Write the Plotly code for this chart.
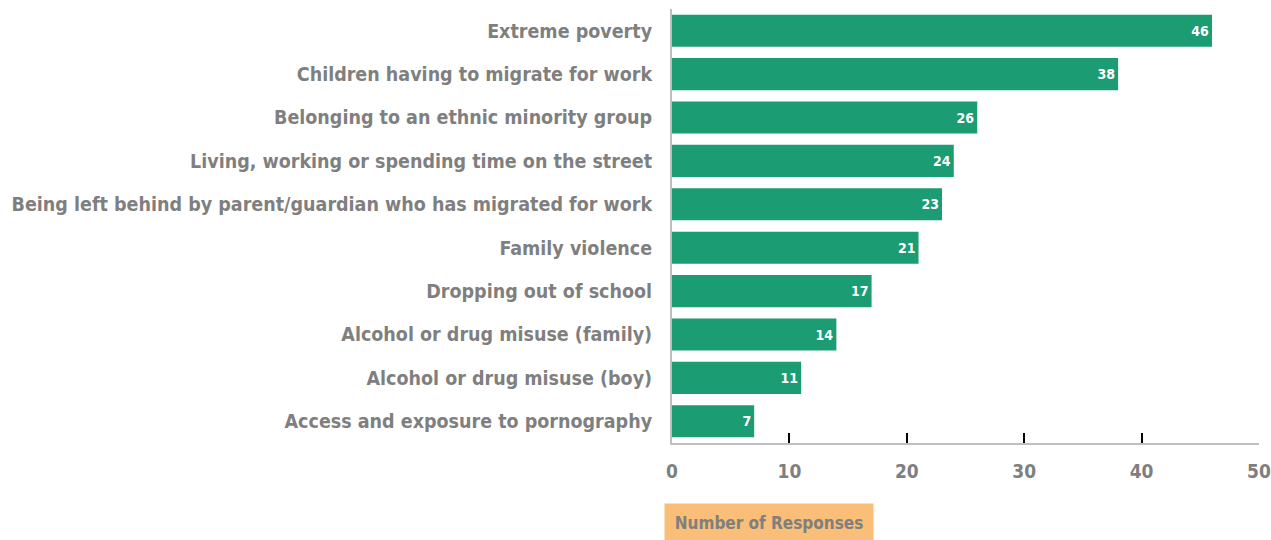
import plotly.graph_objects as go

categories = [
    "Extreme poverty",
    "Children having to migrate for work",
    "Belonging to an ethnic minority group",
    "Living, working or spending time on the street",
    "Being left behind by parent/guardian who has migrated for work",
    "Family violence",
    "Dropping out of school",
    "Alcohol or drug misuse (family)",
    "Alcohol or drug misuse (boy)",
    "Access and exposure to pornography",
]
values = [46, 38, 26, 24, 23, 21, 17, 14, 11, 7]
x_ticks = [0, 10, 20, 30, 40, 50]
axis_title = "Number of Responses"

FONT = "DejaVu Sans Condensed, Roboto Condensed, Arial Narrow, sans-serif"
GRAY = "#7f7f7f"

fig = go.Figure(go.Bar(
    y=categories,
    x=values,
    orientation="h",
    marker=dict(color="#1b9c73", line=dict(width=0)),
    text=[str(v) for v in values],
    textposition="inside",
    insidetextanchor="end",
    textfont=dict(family=FONT, size=14, color="white", weight="bold"),
    textangle=0,
    hoverinfo="skip",
))

fig.update_layout(
    width=1271, height=540,
    margin=dict(l=672, r=12, t=9, b=97, autoexpand=False),
    plot_bgcolor="white", paper_bgcolor="white",
    bargap=0.26,
    showlegend=False,
    uniformtext=dict(minsize=8, mode="show"),
    xaxis=dict(
        range=[0, 50], tickvals=x_ticks, ticktext=[str(t) for t in x_ticks],
        showgrid=False, zeroline=False,
        showline=True, linecolor="#bfbfbf", linewidth=2,
        ticks="inside", ticklen=10, tickwidth=2, tickcolor="black",
        tickfont=dict(family=FONT, size=19, color=GRAY, weight="bold"),
        ticklabelstandoff=10, automargin=False,
        ticklabeloverflow="allow",
    ),
    yaxis=dict(
        categoryorder="array", categoryarray=categories[::-1],
        autorange=True,
        showgrid=False, zeroline=False,
        showline=True, linecolor="#bfbfbf", linewidth=2,
        ticks="",
        tickfont=dict(family=FONT, size=19.5, color=GRAY, weight="bold"),
        ticklabelstandoff=14, automargin=False,
    ),
    annotations=[dict(
        text=axis_title, xref="paper", yref="paper",
        x=0.165, y=-0.184, xanchor="center", yanchor="middle",
        showarrow=False, bgcolor="#f9be78", width=206, height=35,
        font=dict(family=FONT, size=17, color=GRAY, weight="bold"),
    )],
)

fig.write_html(
    "out.html",
    config={"displayModeBar": False},
    post_script="document.body.style.margin='0';document.body.style.overflow='hidden';",
)
